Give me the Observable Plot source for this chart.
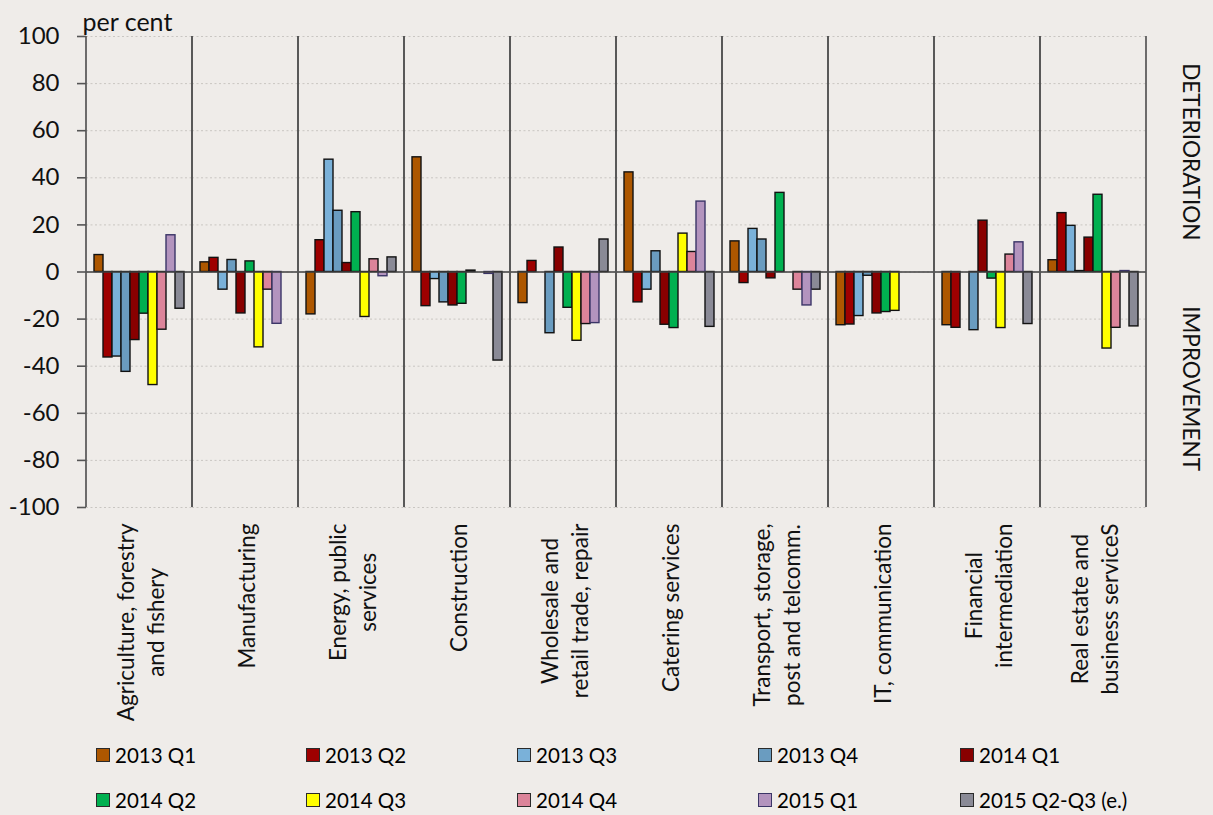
<!DOCTYPE html>
<html><head><meta charset="utf-8">
<script src="https://cdn.jsdelivr.net/npm/d3@7"></script>
<script src="https://cdn.jsdelivr.net/npm/@observablehq/plot@0.6"></script>
<style>
html,body{margin:0;padding:0;background:#efece9;}
#wrap{position:relative;width:1213px;height:815px;background:#efece9;font-family:Lato,sans-serif;overflow:hidden}
#wrap svg{position:absolute;left:0;top:0}
.lg{position:absolute;display:flex;align-items:center;font-size:20.5px;color:#000;white-space:nowrap;line-height:1}
.sw{width:12px;height:12px;border:1px solid #2a2a2a;margin-right:5px;box-sizing:content-box}
</style></head><body><div id="wrap"></div>
<script>
// ---- data ----
const categories = ["Agriculture","Manufacturing","Energy","Construction","Wholesale","Catering","Transport","IT","Financial","RealEstate"];
const categoryLabels = [
  "Agriculture, forestry\nand fishery",
  "Manufacturing",
  "Energy, public\nservices",
  "Construction",
  "Wholesale and\nretail trade, repair",
  "Catering services",
  "Transport, storage,\npost and telcomm.",
  "IT, communication",
  "Financial\nintermediation",
  "Real estate and\nbusiness serviceS"
];
const series = ["2013 Q1","2013 Q2","2013 Q3","2013 Q4","2014 Q1","2014 Q2","2014 Q3","2014 Q4","2015 Q1","2015 Q2-Q3 (e.)"];
const seriesColors = ["#ad5700","#9e0000","#7ab1d9","#6a9cc0","#880000","#00b050","#ffff00","#dc849a","#b394be","#8a8a96"];

// values per category, in series order (null = no bar)
const agriculture   = [7.2, -36.3, -35.9, -42.4, -28.9, -17.7, -48.0, -24.5, 15.6, -15.6];
const manufacturing = [4.1, 6.0, -7.5, 5.1, -17.6, 4.5, -32.0, -7.5, -22.0, null];
const energy        = [-18.0, 13.5, 47.7, 26.0, 3.8, 25.4, -19.1, 5.4, -1.8, 6.2];
const construction  = [48.7, -14.5, -3.0, -12.9, -14.2, -13.5, 0.6, null, -0.8, -37.6];
const wholesale     = [-13.2, 4.7, null, -26.0, 10.4, -15.2, -29.2, -22.1, -21.7, 13.8];
const catering      = [42.3, -12.9, -7.5, 8.8, -22.4, -23.8, 16.3, 8.5, 29.9, -23.3];
const transport     = [13.0, -4.7, 18.3, 13.8, -2.7, 33.6, null, -7.5, -14.2, -7.5];
const itComm        = [-22.6, -22.3, -18.7, -1.6, -17.6, -17.0, -16.5, null, null, null];
const financial     = [-22.6, -23.7, null, -24.7, 21.8, -2.8, -23.8, 7.4, 12.6, -22.1];
const realEstate    = [5.0, 25.0, 19.6, 0.4, 14.6, 32.8, -32.5, -23.7, 0.4, -23.1];

const yTicks = [-100,-80,-60,-40,-20,0,20,40,60,80,100];
const yUnit = "per cent";
const sideLabels = [{text: "DETERIORATION", y: 51}, {text: "IMPROVEMENT", y: -49.5}];

// ---- build table ----
const valueTable = [agriculture, manufacturing, energy, construction, wholesale, catering, transport, itComm, financial, realEstate];
const rows = [];
categories.forEach((c, i) => series.forEach((s, j) => {
  const v = valueTable[i][j];
  if (v != null) rows.push({category: c, series: s, value: v});
}));
const labelOf = Object.fromEntries(categories.map((c, i) => [c, categoryLabels[i]]));

// ---- style ----
const FONT = "Lato";
const labelSize = 22.5;
const ctx = document.createElement("canvas").getContext("2d");
ctx.font = `${labelSize}px ${FONT}`;
const labelDy = categoryLabels.map(l => 16 + d3.max(l.split("\n"), s => ctx.measureText(s).width) / 2);

const dividers = (index, scales, values, dims) => {
  const [x0, x1] = scales.x.range();
  const g = d3.create("svg:g");
  const y0 = dims.marginTop, y1 = dims.height - dims.marginBottom;
  for (const x of [x0, x1]) {
    g.append("line").attr("x1", x).attr("x2", x).attr("y1", y0).attr("y2", y1)
      .attr("stroke", "#555").attr("stroke-width", 1.7);
  }
  return g.node();
};

const labelMarks = categories.map((c, i) => Plot.text([c], {
  fx: d => d, text: d => labelOf[d], frameAnchor: "bottom", rotate: -90,
  textAnchor: "middle", lineAnchor: "middle", lineHeight: 1.33, fontSize: labelSize, fontFamily: FONT,
  fill: "#111", dy: labelDy[i]
}));

const chart = Plot.plot({
  width: 1213,
  height: 740,
  marginLeft: 86,
  marginRight: 67,
  marginTop: 36,
  marginBottom: 233,
  style: {background: "transparent", fontFamily: FONT, overflow: "visible"},
  fx: {domain: categories, padding: 0, axis: null},
  x: {domain: series, paddingInner: 0, paddingOuter: 0.7, axis: null},
  y: {domain: [-100, 100], axis: null},
  color: {domain: series, range: seriesColors},
  marks: [
    Plot.gridY(yTicks, {stroke: "#c9c6c2", strokeOpacity: 1, strokeDasharray: "2,2.5", strokeWidth: 1}),
    Plot.barY(rows.filter(d => d.series !== "2015 Q1"), {fx: "category", x: "series", y: "value", fill: "series", stroke: "#111", strokeWidth: 1.4, inset: 0}),
    Plot.barY(rows.filter(d => d.series === "2015 Q1"), {fx: "category", x: "series", y: "value", fill: "series", stroke: "#3b3567", strokeWidth: 1.4, inset: 0}),
    Plot.ruleY([0], {stroke: "#404040", strokeWidth: 1.6}),
    dividers,
    Plot.axisY({ticks: yTicks, tickFormat: d => String(d), tickSize: 9, tickPadding: 18, fontSize: 24, stroke: "#555", strokeWidth: 1.6, fill: "#111", label: null}),
    ...labelMarks,
    Plot.text([yUnit], {fx: () => categories[0], text: d => d, frameAnchor: "top-left", textAnchor: "start", lineAnchor: "bottom", dx: -4, dy: -6, fontSize: 25, fill: "#111"}),
    Plot.text(sideLabels, {fx: () => categories[categories.length - 1], y: "y", text: "text", frameAnchor: "right", textAnchor: "middle", lineAnchor: "middle", rotate: 90, dx: 44, fontSize: 22.5, fill: "#111"})
  ]
});

const wrap = document.getElementById("wrap");
wrap.appendChild(chart);

// ---- legend ----
const legendCols = [96, 306, 517, 758, 960];
const legendRows = [755, 800];
series.forEach((s, j) => {
  const item = document.createElement("div");
  item.className = "lg";
  item.style.left = legendCols[j % 5] + "px";
  item.style.top = (legendRows[Math.floor(j / 5)] - 10) + "px";
  item.style.height = "20px";
  const sw = document.createElement("span");
  sw.className = "sw";
  sw.style.background = seriesColors[j];
  if (s === "2015 Q1") sw.style.borderColor = "#3b3567";
  const tx = document.createElement("span");
  tx.textContent = s;
  item.appendChild(sw); item.appendChild(tx);
  wrap.appendChild(item);
});
</script></body></html>
